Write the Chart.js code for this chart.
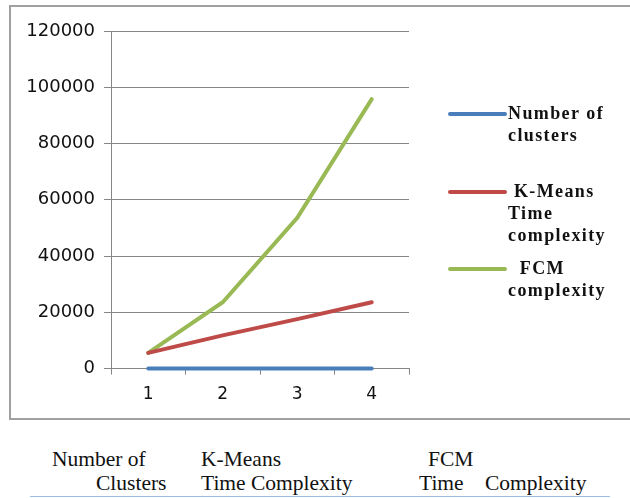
<!DOCTYPE html>
<html lang="en">
<head>
    <meta charset="UTF-8">
    <script src="https://cdn.jsdelivr.net/npm/chart.js"></script>
    <title>Clusters vs time complexity</title>
    <style>
        body { margin: 0; background: #fff; width: 630px; height: 498px; overflow: hidden; position: relative; }
        #frame { position: absolute; left: 9px; top: 5px; width: 640px; height: 411px; border: 2px solid #a0a0a0; border-right: none; }
        #wrap { position: absolute; left: 0; top: 0; width: 620px; height: 411px; }
        .cap { position: absolute; font-family: "Liberation Serif", "Times New Roman", serif; font-size: 21.5px; color: #111; white-space: nowrap; }
        #rule { position: absolute; left: 30px; top: 496px; width: 580px; height: 1px; background: #9dbfdf; }
    </style>
</head>
<body>
    <div id="frame">
        <div id="wrap"><canvas id="myChart"></canvas></div>
    </div>

    <div class="cap" style="left:52px; top:447px;">Number of</div>
    <div class="cap" style="left:96px; top:471px;">Clusters</div>
    <div class="cap" style="left:201px; top:447px;">K-Means</div>
    <div class="cap" style="left:201px; top:471px;">Time Complexity</div>
    <div class="cap" style="left:428px; top:447px;">FCM</div>
    <div class="cap" style="left:419px; top:471px;">Time</div>
    <div class="cap" style="left:485px; top:471px;">Complexity</div>
    <div id="rule"></div>

    <script>
        // datos
        var clusters = ['1', '2', '3', '4'];
        var numClusters = [1, 2, 3, 4];
        var kmeansTime = [5600, 11800, 17600, 23600];
        var fcmTime = [5600, 23600, 53600, 95800];
        var legendLines = [
            ['Number of', 'clusters'],
            [' K-Means', 'Time', 'complexity'],
            ['  FCM', 'complexity']
        ];
        var legendY = [107, 185, 262];

        // leyenda dibujada a mano (texto en varias lineas)
        var sideLegend = {
            id: 'sideLegend',
            afterDraw: function (chart) {
                var ctx = chart.ctx;
                ctx.save();
                ctx.font = 'bold 18px "Liberation Serif", serif';
                ctx.letterSpacing = '1.4px';
                ctx.textBaseline = 'middle';
                ctx.fillStyle = '#111';
                chart.data.datasets.forEach(function (ds, i) {
                    var y = legendY[i];
                    ctx.strokeStyle = ds.borderColor;
                    ctx.lineWidth = 4;
                    ctx.lineCap = 'round';
                    ctx.beginPath();
                    ctx.moveTo(439, y);
                    ctx.lineTo(494, y);
                    ctx.stroke();
                    legendLines[i].forEach(function (t, j) {
                        ctx.fillText(t, 497, y + j * 22);
                    });
                });
                ctx.restore();
            }
        };

        var ctx = document.getElementById('myChart').getContext('2d');
        var myChart = new Chart(ctx, {
            type: 'line',
            data: {
                labels: clusters,
                datasets: [
                    { label: 'Number of clusters', data: numClusters, borderColor: '#4a7ebb', clip: false },
                    { label: 'K-Means Time complexity', data: kmeansTime, borderColor: '#be4b48' },
                    { label: 'FCM complexity', data: fcmTime, borderColor: '#98b954' }
                ]
            },
            options: {
                responsive: true,
                maintainAspectRatio: false,
                animation: false,
                layout: { padding: { left: 10, right: 222, top: 24, bottom: 3 } },
                elements: {
                    line: { borderWidth: 4, tension: 0, borderCapStyle: 'round' },
                    point: { radius: 0 }
                },
                plugins: { legend: { display: false }, tooltip: { enabled: false } },
                scales: {
                    x: {
                        offset: true,
                        grid: { offset: true, drawOnChartArea: false, drawTicks: true, tickLength: 6, color: '#868686' },
                        border: { color: '#868686', width: 1 },
                        ticks: { color: '#111', font: { family: 'DejaVu Sans', size: 17 }, padding: 10 }
                    },
                    y: {
                        min: 0,
                        max: 120000,
                        afterFit: function (s) { s.width = 90; },
                        grid: { color: '#868686', tickLength: 7 },
                        border: { color: '#868686' },
                        ticks: {
                            stepSize: 20000, color: '#111', font: { family: 'DejaVu Sans', size: 18 }, padding: 9,
                            callback: function (v) { return String(v); }
                        }
                    }
                }
            },
            plugins: [sideLegend]
        });
    </script>
</body>
</html>
